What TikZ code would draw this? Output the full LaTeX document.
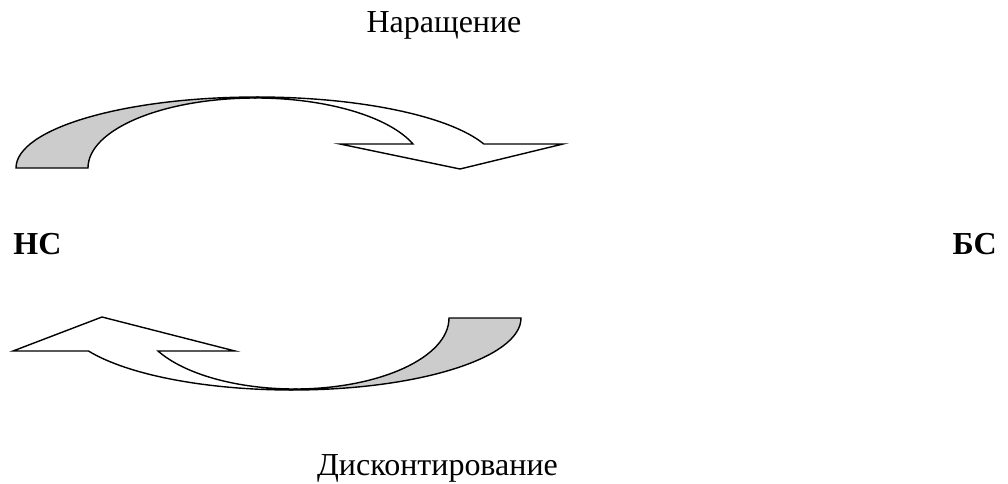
\documentclass[tikz,border=0pt]{standalone}
\usepackage{fontspec}
\setmainfont{Liberation Serif}
\usepackage{tikz}
\definecolor{shadegray}{RGB}{204,204,204}

\begin{document}
\begin{tikzpicture}[x=0.5pt, y=-0.5pt,
  backband/.style={draw=black, line width=0.7pt, fill=shadegray},
  frontband/.style={draw=black, line width=0.7pt, fill=white},
  lbl/.style={font=\fontsize{16}{19}\selectfont, inner sep=0pt}]
  \useasboundingbox (0,0) rectangle (1008,483);

  % Labels
  \node[lbl, anchor=base] (accrual) at (444,32) {Наращение};
  \node[lbl, anchor=base] (discount) at (437.5,475) {Дисконтирование};
  \node[lbl, anchor=base west, font=\fontsize{16}{19}\selectfont\bfseries] (ns) at (13,254) {НС};
  \node[lbl, anchor=base east, font=\fontsize{16}{19}\selectfont\bfseries] (bs) at (997,254) {БС};

  % Upper arrow, back part
  \filldraw[backband] (16,168) arc[start angle=180, end angle=270, x radius=241, y radius=71]
    -- (255.6,98) arc[start angle=270, end angle=180, x radius=167.6, y radius=70] -- cycle;
  % Upper arrow, front part with head
  \filldraw[frontband] (257,97) arc[start angle=270, end angle=340.24, x radius=241, y radius=71]
    -- (563,144) -- (460,169) -- (340,144) -- (413,144)
    arc[start angle=339.95, end angle=270, x radius=167.6, y radius=70] -- cycle;

  % Lower arrow, back part
  \filldraw[backband] (521,318) arc[start angle=0, end angle=90, x radius=229, y radius=72]
    -- (294.6,389) arc[start angle=90, end angle=0, x radius=154.4, y radius=71] -- cycle;
  % Lower arrow, front part with head
  \filldraw[frontband] (292,390) arc[start angle=90, end angle=152.7, x radius=229, y radius=72]
    -- (13,351) -- (102,317) -- (235,351) -- (158,351)
    arc[start angle=152.3, end angle=90, x radius=154.4, y radius=71] -- cycle;
\end{tikzpicture}
\end{document}
